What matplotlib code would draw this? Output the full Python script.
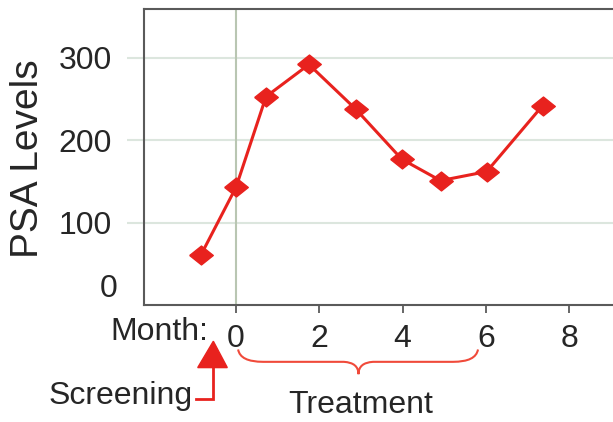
import matplotlib.pyplot as plt
import numpy as np
from matplotlib.path import Path
from matplotlib.patches import PathPatch, Polygon
import matplotlib.transforms as mtransforms

plt.rcParams['font.family'] = ['Liberation Sans', 'DejaVu Sans']

# PSA readings, month since start of treatment
months = [-0.84, 0.0, 0.72, 1.75, 2.87, 3.98, 4.91, 6.02, 7.36]
psa = [61, 143, 253, 292, 238, 177, 151, 162, 242]
xticks = [0, 2, 4, 6, 8]
yticks = [100, 200, 300]

red = '#e8221e'
grid_c = '#dce6de'
dark = '#5a5a5a'
txt = '#262626'

fig = plt.figure(figsize=(6.13, 4.22), dpi=100)
ax = fig.add_axes([144/613, 117/422, 476/613, 295.7/422])

ax.set_xlim(-2.21, 9.22)
ax.set_ylim(0, 359)

for v in yticks:
    ax.axhline(v, color=grid_c, lw=1.5, zorder=0)
ax.axvline(0, color='#b9c6b2', lw=1.5, zorder=0)

diamond = [(-1, 0), (0, 0.8), (1, 0), (0, -0.8), (-1, 0)]
ax.plot(months, psa, color=red, lw=2.2, marker=diamond, ms=17,
        mec=red, mfc=red, zorder=3)

for s in ['left', 'bottom', 'top']:
    ax.spines[s].set_color(dark)
    ax.spines[s].set_linewidth(1.5)
ax.spines['right'].set_visible(False)

ax.set_xticks(xticks)
ax.set_xticklabels([str(t) for t in xticks])
ax.tick_params(axis='x', length=6, width=1.3, color=dark, pad=8,
               labelsize=23, labelcolor=txt)
ax.xaxis.get_major_ticks()[0].tick1line.set_color('#b9c6b2')
ax.set_yticks(yticks)
ax.set_yticklabels([str(t) for t in yticks])
ax.tick_params(axis='y', length=12, width=1.5, color=grid_c, pad=11,
               labelsize=23, labelcolor=txt)
# the zero label sits a bit above the axis line
off = mtransforms.ScaledTranslation(0, 16/100, fig.dpi_scale_trans)
ax.text(-0.055, 0, '0', transform=ax.get_yaxis_transform() + off,
        ha='right', va='center', fontsize=23, color=txt)

ax.set_ylabel('PSA Levels', fontsize=28, color=txt)
ax.yaxis.set_label_coords(-0.205, 0.494)

ax.text(-0.67, -33, 'Month:', ha='right', va='center', fontsize=23,
        color=txt, clip_on=False)

# screening arrow
tri = Polygon([(-0.92, -76), (-0.21, -76), (-0.545, -44)], closed=True,
              color=red, clip_on=False)
ax.add_patch(tri)
ax.plot([-0.545, -0.545, -0.95], [-76, -114, -114], color=red, lw=2,
        clip_on=False, solid_joinstyle='miter')
ax.text(-1.04, -111, 'Screening', ha='right', va='center', fontsize=23,
        color=txt, clip_on=False)

# treatment brace
x0, x1, xm = 0.05, 5.81, 2.94
yt, yh, yb = -54, -69, -84
verts = [(x0, yt), (x0 + 0.05, yh), (x0 + 0.6, yh), (x0 + 0.6, yh),
         (xm - 0.35, yh), (xm - 0.35, yh), (xm, yh - 1), (xm, yb),
         (xm, yh - 1), (xm + 0.35, yh), (xm + 0.35, yh),
         (x1 - 0.6, yh), (x1 - 0.6, yh), (x1 - 0.05, yh), (x1, yt)]
codes = [Path.MOVETO, Path.CURVE3, Path.CURVE3, Path.LINETO,
         Path.LINETO, Path.LINETO, Path.CURVE3, Path.CURVE3,
         Path.CURVE3, Path.CURVE3, Path.LINETO,
         Path.LINETO, Path.LINETO, Path.CURVE3, Path.CURVE3]
brace = PathPatch(Path(verts, codes), fc='none', ec='#f04a3a', lw=1.5,
                  clip_on=False)
ax.add_patch(brace)
ax.text(2.99, -122, 'Treatment', ha='center', va='center', fontsize=23,
        color=txt, clip_on=False)

fig.savefig('out.png', dpi=100)
